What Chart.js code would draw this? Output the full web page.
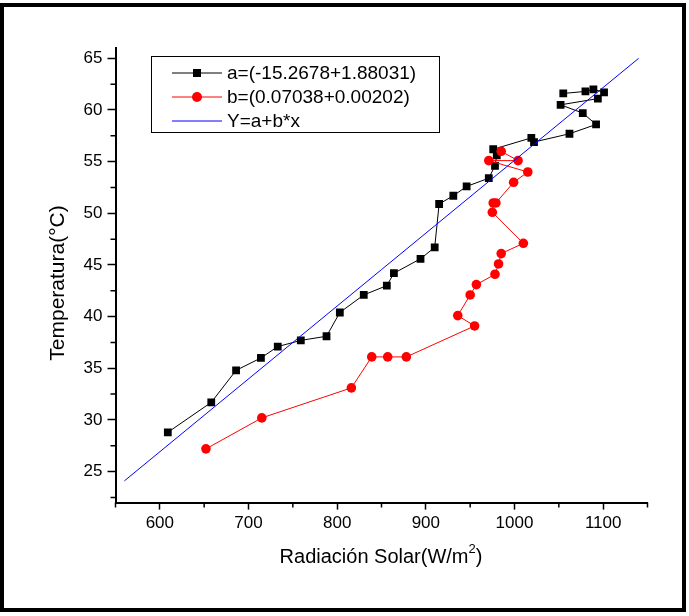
<!DOCTYPE html>
<html>
<head>
<meta charset="utf-8">
<script src="https://cdn.jsdelivr.net/npm/chart.js@4"></script>
<style>
html, body { margin: 0; padding: 0; background: #fff; }
#wrap { position: relative; width: 689px; height: 616px; }
#frame { position: absolute; left: 0; top: 3px; width: 686px; height: 609px; border: 4px solid #000; box-sizing: border-box; pointer-events: none; }
canvas { position: absolute; left: 0; top: 0; }
</style>
</head>
<body>
<div id="wrap">
  <canvas id="chart" width="689" height="616"></canvas>
  <div id="frame"></div>
</div>
<script>
// 데이터
const blackX = [609, 658, 686, 714, 733, 759, 788, 803, 830, 856, 864, 894, 910, 915, 931, 946, 971, 978, 980, 976, 1019, 1022, 1062, 1092, 1077, 1052, 1094, 1101, 1089, 1080, 1055];
const blackY = [28.8, 31.7, 34.8, 36.0, 37.1, 37.7, 38.1, 40.4, 42.1, 43.0, 44.2, 45.6, 46.7, 50.9, 51.7, 52.6, 53.4, 54.6, 55.6, 56.2, 57.3, 56.9, 57.7, 58.6, 59.7, 60.5, 61.1, 61.7, 62.0, 61.8, 61.6];

const redX = [652, 715, 816, 839, 857, 878, 955, 936, 950, 957, 978, 982, 985, 1010, 975, 976, 979, 999, 1015, 971, 1004, 985];
const redY = [27.2, 30.2, 33.1, 36.1, 36.1, 36.1, 39.1, 40.1, 42.1, 43.1, 44.1, 45.1, 46.1, 47.1, 50.1, 51.0, 51.0, 53.0, 54.0, 55.1, 55.1, 56.0];

const fitX = [560, 1140];
const fitY = [24.1, 65.0];

const labels = ['a=(-15.2678+1.88031)', 'b=(0.07038+0.00202)', 'Y=a+b*x'];

const xTicks = [600, 700, 800, 900, 1000, 1100];
const xMinor = [550, 650, 750, 850, 950, 1050, 1150];
const yTicks = [25, 30, 35, 40, 45, 50, 55, 60, 65];
const yMinor = [22.5, 27.5, 32.5, 37.5, 42.5, 47.5, 52.5, 57.5, 62.5];

const FONT = "'Liberation Sans', Arial, sans-serif";

const toPoints = (xs, ys) => xs.map((x, i) => ({ x: x, y: ys[i] }));

// 보조 눈금, 축 제목, 범례 그리기
const extras = {
    id: 'extras',
    afterDraw(chart) {
        const ctx = chart.ctx;
        const xs = chart.scales.x;
        const ys = chart.scales.y;
        const area = chart.chartArea;
        ctx.save();
        ctx.strokeStyle = '#000';
        ctx.lineWidth = 1.5;
        ctx.beginPath();
        xMinor.forEach(v => {
            const px = xs.getPixelForValue(v);
            ctx.moveTo(px, area.bottom);
            ctx.lineTo(px, area.bottom + 5);
        });
        yMinor.forEach(v => {
            const py = ys.getPixelForValue(v);
            ctx.moveTo(area.left, py);
            ctx.lineTo(area.left - 5, py);
        });
        ctx.stroke();

        // x 축 제목 (위첨자 포함)
        ctx.fillStyle = '#000';
        ctx.textBaseline = 'middle';
        ctx.textAlign = 'left';
        const big = '20px ' + FONT;
        const small = '13px ' + FONT;
        const main = 'Radiación Solar(W/m';
        ctx.font = big;
        const w1 = ctx.measureText(main).width;
        const w3 = ctx.measureText(')').width;
        ctx.font = small;
        const w2 = ctx.measureText('2').width;
        let tx = 381 - (w1 + w2 + w3) / 2;
        const ty = 557;
        ctx.font = big;
        ctx.fillText(main, tx, ty);
        ctx.font = small;
        ctx.fillText('2', tx + w1, ty - 8);
        ctx.font = big;
        ctx.fillText(')', tx + w1 + w2, ty);

        // y 축 제목
        ctx.save();
        ctx.translate(58, 283);
        ctx.rotate(-Math.PI / 2);
        ctx.textAlign = 'center';
        ctx.font = '21px ' + FONT;
        ctx.fillText('Temperatura(°C)', 0, 0);
        ctx.restore();

        // 범례
        ctx.lineWidth = 1;
        ctx.strokeStyle = '#000';
        ctx.strokeRect(151.5, 56.5, 288, 76);
        const rows = [73, 97, 121];
        const cols = ['#000', '#ff0000', '#0000ff'];
        rows.forEach((ry, i) => {
            ctx.strokeStyle = cols[i];
            ctx.lineWidth = 1;
            ctx.beginPath();
            ctx.moveTo(172, ry);
            ctx.lineTo(222, ry);
            ctx.stroke();
            ctx.fillStyle = cols[i];
            if (i === 0) ctx.fillRect(193, ry - 4, 8, 8);
            if (i === 1) { ctx.beginPath(); ctx.arc(197, ry, 5, 0, Math.PI * 2); ctx.fill(); }
            ctx.fillStyle = '#000';
            ctx.font = '19px ' + FONT;
            ctx.textAlign = 'left';
            ctx.fillText(labels[i], 227, ry + 1);
        });
        ctx.restore();
    }
};

new Chart(document.getElementById('chart'), {
    type: 'scatter',
    data: {
        datasets: [
            {
                label: labels[2],
                data: toPoints(fitX, fitY),
                showLine: true,
                borderColor: '#0000ff',
                borderWidth: 1,
                pointRadius: 0,
                order: 0
            },
            {
                label: labels[1],
                data: toPoints(redX, redY),
                showLine: true,
                borderColor: '#ff0000',
                borderWidth: 1,
                backgroundColor: '#ff0000',
                pointBackgroundColor: '#ff0000',
                pointBorderWidth: 0,
                pointStyle: 'circle',
                pointRadius: 4.8,
                order: 1
            },
            {
                label: labels[0],
                data: toPoints(blackX, blackY),
                showLine: true,
                borderColor: '#000',
                borderWidth: 1,
                backgroundColor: '#000',
                pointBackgroundColor: '#000',
                pointBorderWidth: 0,
                pointStyle: 'rect',
                pointRadius: 5.5,
                order: 2
            }
        ]
    },
    options: {
        responsive: false,
        animation: false,
        devicePixelRatio: 1,
        layout: { padding: { left: 0, top: 48, right: 41.5, bottom: 0 } },
        plugins: {
            legend: { display: false },
            tooltip: { enabled: false }
        },
        scales: {
            x: {
                type: 'linear',
                min: 550,
                max: 1150,
                afterBuildTicks: s => { s.ticks = xTicks.map(v => ({ value: v })); },
                afterFit: s => { s.height = 113.4; },
                border: { color: '#000', width: 2 },
                grid: { drawOnChartArea: false, tickLength: 7, tickColor: '#000', tickWidth: 1.5 },
                ticks: { color: '#000', padding: 4, font: { family: FONT, size: 17 }, callback: v => String(v) }
            },
            y: {
                type: 'linear',
                min: 22,
                max: 66,
                afterBuildTicks: s => { s.ticks = yTicks.map(v => ({ value: v })); },
                afterFit: s => { s.width = 115.5; },
                border: { color: '#000', width: 2 },
                grid: { drawOnChartArea: false, tickLength: 8, tickColor: '#000', tickWidth: 1.5 },
                ticks: { color: '#000', padding: 5, font: { family: FONT, size: 17 }, callback: v => String(v) }
            }
        }
    },
    plugins: [extras]
});
</script>
</body>
</html>
